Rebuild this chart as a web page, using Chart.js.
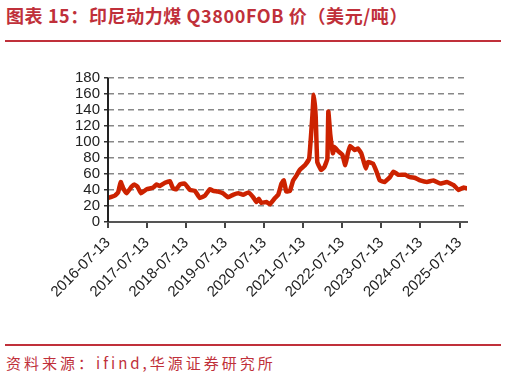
<!DOCTYPE html>
<html><head><meta charset="utf-8">
<script src="https://cdn.jsdelivr.net/npm/chart.js@4/dist/chart.umd.min.js"></script>
<style>
html,body{margin:0;padding:0;background:#fff;width:506px;height:378px;overflow:hidden;position:relative;font-family:"Noto Sans CJK SC",sans-serif;}
#title{position:absolute;left:6px;top:2px;font-size:18px;font-weight:bold;color:#c0303a;white-space:nowrap;letter-spacing:0.6px;}
#l1{position:absolute;left:5px;top:40px;width:496px;height:2px;background:#c0303a;}
#l2{position:absolute;left:5px;top:344px;width:496px;height:2px;background:#c0303a;}
#src{position:absolute;left:6px;top:352px;font-size:15px;color:#c0303a;white-space:nowrap;letter-spacing:3px;}
#wrap{position:absolute;left:0;top:60px;width:506px;height:280px;}
</style></head><body>
<div id="title">图表 15：印尼动力煤 Q3800FOB 价（美元/吨）</div>
<div id="l1"></div>
<div id="wrap"><canvas id="c"></canvas></div>
<div id="l2"></div>
<div id="src">资料来源：ifind,华源证券研究所</div>
<script>
// months since 2016-07-13
const months = [0,2.1,3.1,3.9,4.7,5.7,7.2,8.1,9.1,10.1,11.9,13.9,14.9,15.9,17.5,19,20,21,22.1,23.6,25.2,26.7,28.2,29.8,31.3,32.3,33.8,35.3,36.9,38.4,40,41.5,43.1,44.6,45.6,46.3,47.1,48.7,49.7,51.3,52.3,53.3,54,54.8,55.9,56.9,57.9,58.9,60.5,61.8,62.8,63.2,63.8,64.3,65.5,66.5,67.4,67.7,68.3,69.1,69.6,70.6,72,72.9,73.7,74.4,75.8,76.8,77.8,78.6,79.2,79.9,81.4,82.5,83.5,85,86.6,87.7,89.2,91.3,92.8,94.4,95.9,98,100,102.1,104.1,106.2,107.7,109.2,110.2];
const prices = [30,33,37,50,42,36,44,47,44,36,41,43,47,45,49,51,42,41,47,48,40,39,30,33,41,39,38,36,31,34,36,34,37,31,25,29,24,25,22,30,34,48,52,38,39,52,58,65,71,79,133,159,133,75,65,69,79,138,109,86,94,89,84,71,86,95,90,92,86,75,67,75,73,63,52,50,56,63,59,59,56,55,52,50,52,48,50,46,40,43,42];
const tickLabels = ['2016-07-13','2017-07-13','2018-07-13','2019-07-13','2020-07-13','2021-07-13','2022-07-13','2023-07-13','2024-07-13','2025-07-13'];
const yTicks = [0,20,40,60,80,100,120,140,160,180];

const yAxisLine = {
  id:'yAxisLine',
  afterDraw(chart){
    const {ctx, chartArea:a} = chart;
    ctx.save();
    ctx.strokeStyle='#222';ctx.lineWidth=2;ctx.setLineDash([]);
    ctx.beginPath();ctx.moveTo(a.left,a.top);ctx.lineTo(a.left,a.bottom);ctx.stroke();
    ctx.restore();
  }
};

const pts = months.map((m,i)=>({x:m,y:prices[i]}));
new Chart(document.getElementById('c'),{
  type:'line',
  data:{datasets:[{data:pts,borderColor:'#cc2200',borderWidth:4.5,pointRadius:0,tension:0.1,fill:false,borderJoinStyle:'round',borderCapStyle:'round'}]},
  options:{
    responsive:true,maintainAspectRatio:false,animation:false,
    layout:{padding:{left:0,right:39,top:18,bottom:0}},
    plugins:{legend:{display:false},tooltip:{enabled:false}},
    scales:{
      x:{type:'linear',min:0,max:110.3,
        afterBuildTicks:(ax)=>{ax.ticks=tickLabels.map((t,i)=>({value:i*12}));},
        afterFit:(ax)=>{ax.height=118;},
        ticks:{autoSkip:false,maxRotation:45,minRotation:45,color:'#222',font:{family:'Liberation Sans, Arial',size:15},padding:6,
          callback:(v,i)=>tickLabels[i]},
        grid:{drawOnChartArea:false,drawTicks:true,tickLength:6,color:'#444',lineWidth:2},
        border:{display:true,color:'#555',width:2}
      },
      y:{min:0,max:180,
        afterBuildTicks:(ax)=>{ax.ticks=yTicks.map(v=>({value:v}));},
        afterFit:(ax)=>{ax.width=108;},
        ticks:{autoSkip:false,color:'#222',font:{family:'Liberation Sans, Arial',size:15},padding:4},
        grid:{color:'#888',lineWidth:1.5,tickLength:4,tickColor:'#333',tickBorderDash:[],tickWidth:1.5},
        border:{display:false,dash:[6,4]}
      }
    }
  },
  plugins:[yAxisLine]
});
</script>
</body></html>
